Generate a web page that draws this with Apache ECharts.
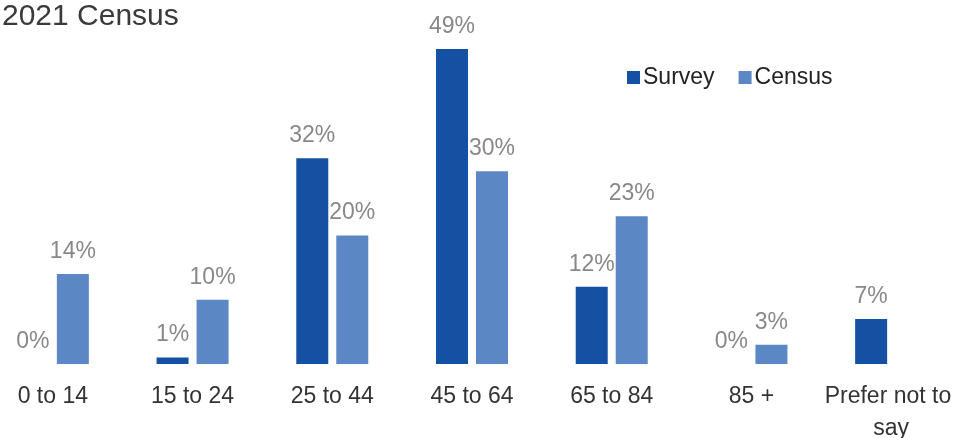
<!DOCTYPE html>
<html><head><meta charset="utf-8">
<script src="https://cdn.jsdelivr.net/npm/echarts@6/dist/echarts.min.js"></script>
<style>html,body{margin:0;padding:0;background:#fff}#c{width:968px;height:438px}</style>
</head><body><div id="c"></div>
<script>
var categories = ['0 to 14', '15 to 24', '25 to 44', '45 to 64', '65 to 84', '85 +', 'Prefer not to say'];
var surveyValues = [0, 1, 32, 49, 12, 0, 7];
var censusValues = [14, 10, 20, 30, 23, 3, null];
var titleText = '2021 Census';

var FONT = '"Liberation Sans", Helvetica, Arial, sans-serif';
var chart = echarts.init(document.getElementById('c'));
var lbl = {show: true, position: 'top', distance: 11, color: '#888888', fontSize: 23, fontFamily: FONT,
  formatter: function (p) { return p.value + '%'; }};
chart.setOption({
  animation: false,
  title: {text: titleText, left: -3, top: -3, textStyle: {fontSize: 30, fontWeight: 'normal', color: '#3a3a3a', fontFamily: FONT}},
  legend: {data: ['Survey', 'Census'], left: 622, top: 61, itemWidth: 13, itemHeight: 13, itemGap: 24,
    icon: 'rect', textStyle: {fontSize: 23, color: '#222', fontFamily: FONT, padding: [0, 0, 0, -2]}},
  grid: {left: -17, right: 7, top: 49, bottom: 74, outerBoundsMode: 'none', containLabel: false},
  xAxis: {type: 'category', data: categories, axisLine: {show: false}, axisTick: {show: false},
    axisLabel: {interval: 0, margin: 17, fontSize: 23, color: '#333', fontFamily: FONT, lineHeight: 32,
      width: 138, overflow: 'break'}},
  yAxis: {type: 'value', min: 0, max: 49, show: false, splitLine: {show: false}},
  series: [
    {name: 'Survey', type: 'bar', data: surveyValues, barWidth: 32, barGap: '25%',
     itemStyle: {color: '#1550a3'}, label: lbl},
    {name: 'Census', type: 'bar', data: censusValues, barWidth: 32,
     itemStyle: {color: '#5b88c4'}, label: lbl}
  ]
});
</script></body></html>
